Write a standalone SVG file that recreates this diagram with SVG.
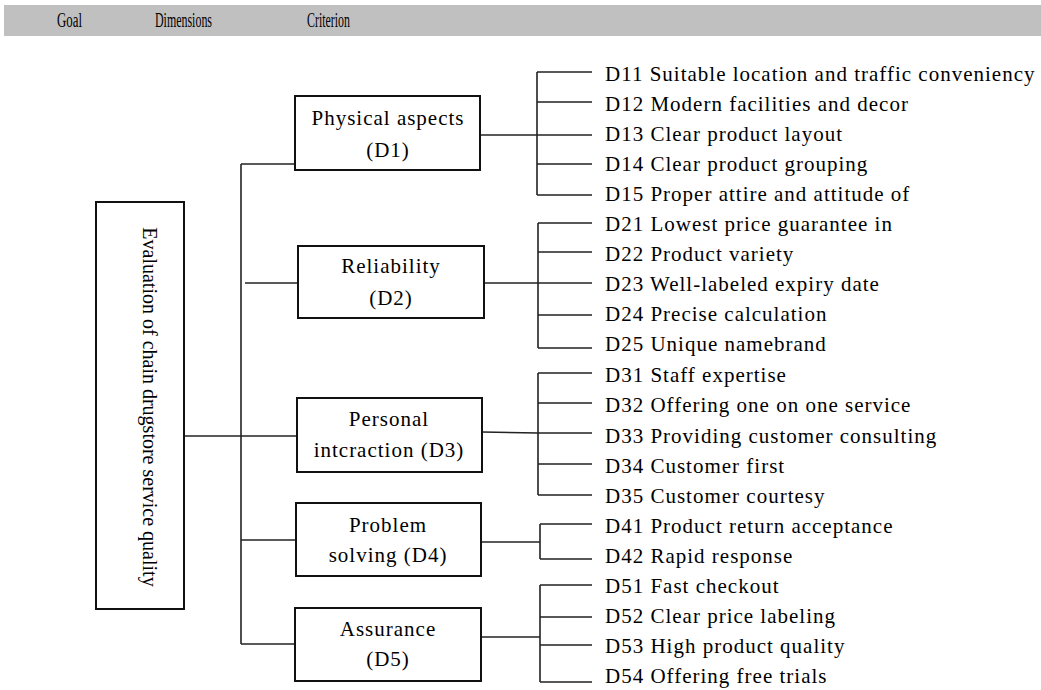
<svg xmlns="http://www.w3.org/2000/svg" width="1041" height="690" viewBox="0 0 1041 690">
<style>
.hdr{font-family:"Liberation Serif","Times New Roman",serif;font-size:20px;fill:#000}
.box{fill:#fff;stroke:#111;stroke-width:2}
.bt{font-family:"Liberation Serif","Times New Roman",serif;font-size:21px;letter-spacing:1px;fill:#000;text-anchor:middle}
.ct{font-family:"Liberation Serif","Times New Roman",serif;font-size:21px;letter-spacing:1px;fill:#000}
.gt{font-family:"Liberation Serif","Times New Roman",serif;font-size:20px;fill:#000;text-anchor:middle}
.ln{fill:none;stroke:#222;stroke-width:1.6}
</style>
<rect x="0" y="0" width="1041" height="690" fill="#fff"/>
<g id="header">
<rect x="4" y="5" width="1037" height="31" fill="#c0c0c0"/>
<text class="hdr" x="57" y="27" textLength="25" lengthAdjust="spacingAndGlyphs">Goal</text>
<text class="hdr" x="155" y="27" textLength="57" lengthAdjust="spacingAndGlyphs">Dimensions</text>
<text class="hdr" x="307" y="27" textLength="43" lengthAdjust="spacingAndGlyphs">Criterion</text>
</g>
<g id="connectors">
<path class="ln" d="M184 436 H297"/>
<path class="ln" d="M241 164 V644"/>
<path class="ln" d="M241 164 H295"/>
<path class="ln" d="M245 283 H298"/>
<path class="ln" d="M241 540 H296"/>
<path class="ln" d="M241 644 H295"/>
<path class="ln" d="M480 135 H592"/>
<path class="ln" d="M537 72 V195 M537 72 H592 M537 102 H592 M537 164 H592 M537 195 H592"/>
<path class="ln" d="M484 283 H592"/>
<path class="ln" d="M538 223 V348 M538 223 H592 M538 252 H592 M538 315 H592 M538 348 H592"/>
<path class="ln" d="M482 432 L538 433 H592"/>
<path class="ln" d="M538 373 V495 M538 373 H592 M538 403 H592 M538 464 H592 M538 495 H592"/>
<path class="ln" d="M481 542 H540"/>
<path class="ln" d="M540 524 V559 M540 524 H592 M540 559 H592"/>
<path class="ln" d="M481 637 H540"/>
<path class="ln" d="M540 585 V682 M540 585 H592 M540 617 H592 M540 645 H592 M540 682 H592"/>
</g>
<g id="goal">
<rect class="box" x="96" y="202" width="88" height="407"/>
<text class="gt" transform="translate(143,407) rotate(90)">Evaluation of chain drugstore service quality</text>
</g>
<g id="d1">
<rect class="box" x="295" y="96" width="185" height="74"/>
<text class="bt" x="388" y="125">Physical aspects</text>
<text class="bt" x="388" y="157">(D1)</text>
</g>
<g id="d2">
<rect class="box" x="298" y="246" width="186" height="72"/>
<text class="bt" x="391" y="273">Reliability</text>
<text class="bt" x="391" y="305">(D2)</text>
</g>
<g id="d3">
<rect class="box" x="297" y="398" width="185" height="74"/>
<text class="bt" x="389" y="426">Personal</text>
<text class="bt" x="389" y="457">intcraction (D3)</text>
</g>
<g id="d4">
<rect class="box" x="296" y="503" width="185" height="73"/>
<text class="bt" x="388" y="532">Problem</text>
<text class="bt" x="388" y="562">solving (D4)</text>
</g>
<g id="d5">
<rect class="box" x="295" y="608" width="186" height="73"/>
<text class="bt" x="388" y="636">Assurance</text>
<text class="bt" x="388" y="666">(D5)</text>
</g>
<g id="criteria">
<text class="ct" x="605" y="81">D11 Suitable location and traffic conveniency</text>
<text class="ct" x="605" y="111">D12 Modern facilities and decor</text>
<text class="ct" x="605" y="141">D13 Clear product layout</text>
<text class="ct" x="605" y="171">D14 Clear product grouping</text>
<text class="ct" x="605" y="201">D15 Proper attire and attitude of</text>
<text class="ct" x="605" y="231">D21 Lowest price guarantee in</text>
<text class="ct" x="605" y="261">D22 Product variety</text>
<text class="ct" x="605" y="291">D23 Well-labeled expiry date</text>
<text class="ct" x="605" y="321">D24 Precise calculation</text>
<text class="ct" x="605" y="351">D25 Unique namebrand</text>
<text class="ct" x="605" y="382">D31 Staff expertise</text>
<text class="ct" x="605" y="412">D32 Offering one on one service</text>
<text class="ct" x="605" y="443">D33 Providing customer consulting</text>
<text class="ct" x="605" y="473">D34 Customer first</text>
<text class="ct" x="605" y="503">D35 Customer courtesy</text>
<text class="ct" x="605" y="533">D41 Product return acceptance</text>
<text class="ct" x="605" y="563">D42 Rapid response</text>
<text class="ct" x="605" y="593">D51 Fast checkout</text>
<text class="ct" x="605" y="623">D52 Clear price labeling</text>
<text class="ct" x="605" y="653">D53 High product quality</text>
<text class="ct" x="605" y="683">D54 Offering free trials</text>
</g>
</svg>
